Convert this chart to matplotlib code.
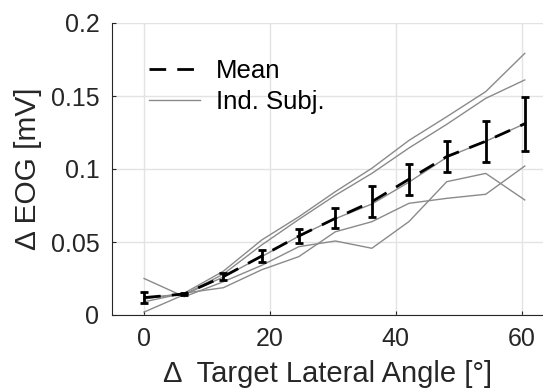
import matplotlib
matplotlib.use("Agg")
import matplotlib.pyplot as plt
import matplotlib.lines as mlines

plt.rcParams["font.family"] = ["Liberation Sans", "DejaVu Sans"]

# target angle steps (deg)
angle = [0, 6.4, 12.6, 18.7, 24.6, 30.4, 36.2, 42.1, 48.1, 54.3, 60.5]

# mean EOG change and error bar half-width (mV)
mean_eog = [0.0119, 0.0144, 0.0263, 0.0404, 0.0541, 0.0662, 0.0776, 0.0930, 0.1085, 0.1190, 0.1310]
err_eog = [0.0038, 0.0010, 0.0026, 0.0039, 0.0051, 0.0068, 0.0108, 0.0105, 0.0108, 0.0140, 0.0185]

# individual subjects
subj_1 = [0.011, 0.015, 0.030, 0.0514, 0.0673, 0.0845, 0.1005, 0.1196, 0.1358, 0.153, 0.1792]
subj_2 = [0.012, 0.014, 0.028, 0.048, 0.0655, 0.082, 0.097, 0.1144, 0.1306, 0.1484, 0.161]
subj_3 = [0.002, 0.014, 0.026, 0.040, 0.054, 0.066, 0.076, 0.091, 0.108, 0.119, 0.131]
subj_4 = [0.025, 0.0125, 0.0228, 0.034, 0.0468, 0.0507, 0.0457, 0.064, 0.0913, 0.097, 0.0788]
subj_5 = [0.009, 0.015, 0.0187, 0.031, 0.040, 0.057, 0.0639, 0.0765, 0.0799, 0.0827, 0.102]
subjects = [subj_1, subj_2, subj_3, subj_4, subj_5]

GREY = "#8a8a8a"
MEAN_LS = (0, (6, 4))

fig = plt.figure(figsize=(5.43, 3.92), dpi=100)
ax = fig.add_axes([112 / 543, 77 / 392, 431 / 543, 292 / 392])

for s in subjects:
    ax.plot(angle, s, color=GREY, linewidth=1.0, zorder=2)

ax.errorbar(angle, mean_eog, yerr=err_eog, color="black", linewidth=2.0,
            linestyle=MEAN_LS, elinewidth=2.0, capsize=3.2, capthick=2.0,
            zorder=3)

ax.set_xlim(-5.1, 63.4)
ax.set_ylim(0, 0.2)
ax.set_xticks([0, 20, 40, 60])
ax.set_yticks([0, 0.05, 0.1, 0.15, 0.2])
ax.set_yticklabels(["0", "0.05", "0.1", "0.15", "0.2"])
ax.tick_params(direction="in", length=3, width=0.8, colors="#262626",
               labelsize=18)
ax.tick_params(axis="y", pad=9)
ax.tick_params(axis="x", pad=9)
ax.grid(True, color="#e3e3e3", linewidth=1.0)
ax.set_axisbelow(True)
for side in ["top", "right"]:
    ax.spines[side].set_visible(False)
for side in ["left", "bottom"]:
    ax.spines[side].set_color("#262626")
    ax.spines[side].set_linewidth(0.8)

ax.set_xlabel("Δ  Target Lateral Angle [°]", fontsize=21, color="#262626",
              labelpad=6)
ax.set_ylabel("Δ EOG [mV]", fontsize=21.5, color="#262626", labelpad=6)

legend_handles = [
    mlines.Line2D([], [], color="black", linewidth=2.0, linestyle=MEAN_LS),
    mlines.Line2D([], [], color=GREY, linewidth=1.0),
]
ax.legend(legend_handles, ["Mean", "Ind. Subj."],
          loc="upper left", bbox_to_anchor=(0.086, 0.876), frameon=False,
          fontsize=18.5, handlelength=2.0, handletextpad=0.6, labelspacing=0.25,
          borderpad=0, borderaxespad=0)

fig.savefig("out.png", dpi=100)
